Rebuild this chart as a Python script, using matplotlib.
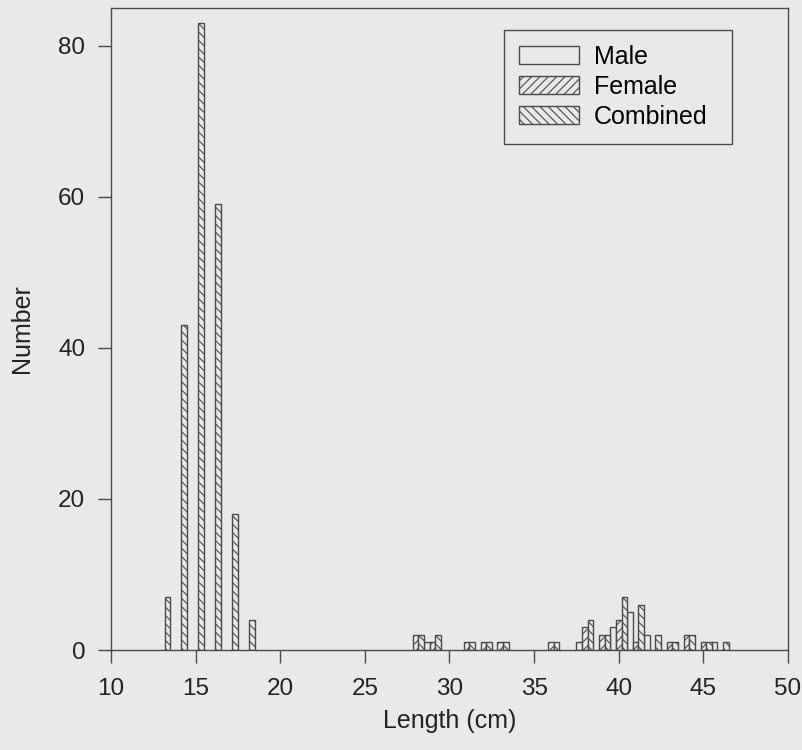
import numpy as np
import matplotlib
matplotlib.use('Agg')
import matplotlib.pyplot as plt

# length classes (cm) and counts per sex
lengths = list(range(13, 47))
male_counts = {29: 1, 38: 1, 40: 3, 41: 5, 42: 2, 46: 1}
female_counts = {28: 2, 29: 1, 31: 1, 32: 1, 33: 1, 36: 1, 38: 3, 39: 2,
                 40: 4, 41: 1, 43: 1, 44: 2, 45: 1}
combined_counts = {13: 7, 14: 43, 15: 83, 16: 59, 17: 18, 18: 4,
                   28: 2, 29: 2, 31: 1, 32: 1, 33: 1, 36: 1, 38: 4, 39: 2,
                   40: 7, 41: 6, 42: 2, 43: 1, 44: 2, 45: 1, 46: 1}

male = [male_counts.get(l, 0) for l in lengths]
female = [female_counts.get(l, 0) for l in lengths]
combined = [combined_counts.get(l, 0) for l in lengths]

bg = '#e9e9e9'
edge = '#4a4a4a'
txt = '#222222'
plt.rcParams['font.family'] = ['Liberation Sans', 'DejaVu Sans']
plt.rcParams['hatch.linewidth'] = 0.8

fig = plt.figure(figsize=(8.03, 7.5), dpi=100, facecolor=bg)
ax = fig.add_axes([0.1382, 0.1333, 0.8431, 0.856])
ax.set_facecolor(bg)

x = np.array(lengths)
w = 1 / 3


def draw(vals, offset, hatch, label):
    vals = np.array(vals)
    keep = vals > 0
    ax.bar(x[keep] + offset, vals[keep], width=w, facecolor=bg,
           edgecolor=edge, linewidth=1.0, hatch=hatch, label=label)


draw(male, -w, None, 'Male')
draw(female, 0, '////', 'Female')
draw(combined, w, '\\\\\\\\', 'Combined')

ax.set_xlim(10, 50)
ax.set_ylim(0, 85)
ax.set_xticks(range(10, 51, 5))
ax.set_yticks(range(0, 81, 20))
ax.tick_params(direction='out', length=9.5, width=1, color=edge,
               labelsize=17.5, labelcolor=txt)
ax.tick_params(axis='x', pad=11)
ax.tick_params(axis='y', pad=9)
for s in ax.spines.values():
    s.set_color(edge)
    s.set_linewidth(1.0)

ax.set_xlabel('Length (cm)', fontsize=18, color=txt)
ax.set_ylabel('Number', fontsize=18, color=txt)
ax.xaxis.set_label_coords(0.5, -0.092)
ax.yaxis.set_label_coords(-0.114, 0.5)

# legend box stretched to the reference width, text left aligned
leg = ax.legend(loc='upper left', bbox_to_anchor=(0.5805, 0.8, 0.3368, 0.1657),
                mode='expand', fontsize=18, frameon=True, fancybox=False,
                edgecolor=edge, facecolor=bg, framealpha=1, handlelength=2.4,
                handleheight=0.72, labelspacing=0.24, borderpad=0.6,
                handletextpad=0.6, borderaxespad=0)
leg.get_frame().set_linewidth(1.0)

fig.savefig('out.png', dpi=100, facecolor=bg)
